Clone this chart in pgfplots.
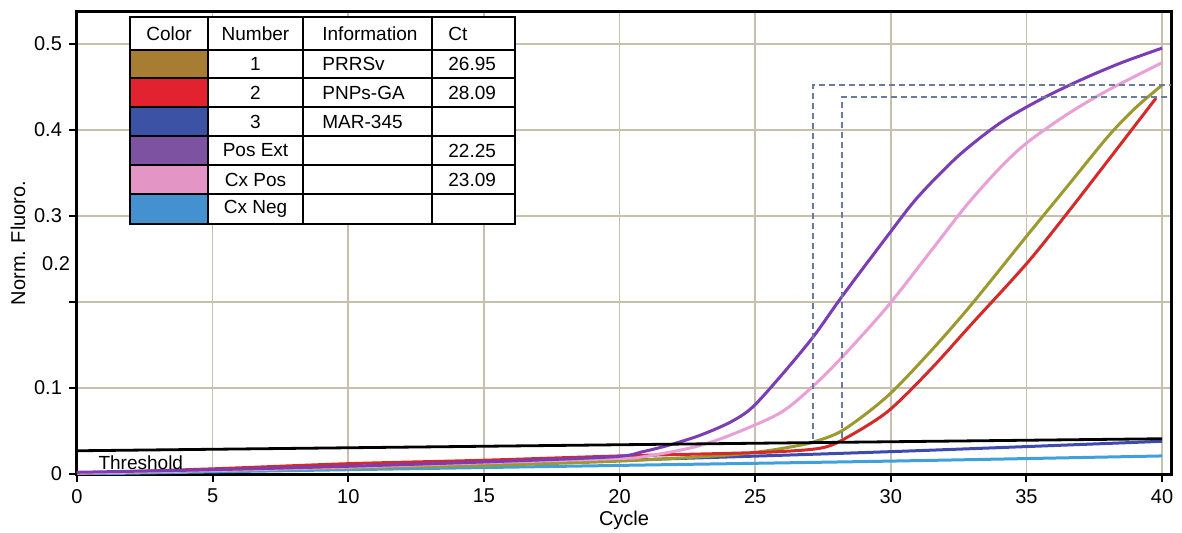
\documentclass[border=0pt]{standalone}
\usepackage{fontspec}
\setmainfont{Liberation Sans}
\usepackage{pgfplots}
\pgfplotsset{compat=1.18}
\usetikzlibrary{calc}

% curve colours
\definecolor{cOlive}{HTML}{9C9A2E}
\definecolor{cRed}{HTML}{D42A2A}
\definecolor{cPurple}{HTML}{7B3DB5}
\definecolor{cPink}{HTML}{E9A0D6}
\definecolor{cBlue}{HTML}{3D4BB0}
\definecolor{cLight}{HTML}{3FA0DC}
% legend swatches
\definecolor{sBrown}{HTML}{A67D33}
\definecolor{sRed}{HTML}{E2222E}
\definecolor{sBlue}{HTML}{3B52A5}
\definecolor{sPurple}{HTML}{7D52A0}
\definecolor{sPink}{HTML}{E395C5}
\definecolor{sLight}{HTML}{4391CE}
\definecolor{gridtan}{HTML}{C8C0AC}
\definecolor{dashc}{HTML}{6C7C9C}

\begin{document}
\begin{tikzpicture}
\begin{axis}[
  scale only axis,
  width=547pt, height=231pt,
  xmin=0, xmax=40.33, ymin=0, ymax=0.537,
  axis line style={line width=1.5pt},
  tick pos=left,
  tick align=outside,
  major tick length=4pt,
  tick style={black, line width=1pt},
  xtick={0,5,10,15,20,25,30,35,40},
  ytick={0,0.1,0.2,0.3,0.4,0.5},
  yticklabels={0,0.1,,0.3,0.4,0.5},
  extra y ticks={0.244},
  extra y tick labels={0.2},
  extra y tick style={major tick length=0pt, grid=none},
  grid=major,
  major grid style={gridtan, line width=0.8pt},
  tick label style={font=\fontsize{10}{12}\selectfont},
  /pgf/number format/assume math mode=true,
  xlabel={Cycle},
  ylabel={Norm. Fluoro.},
  label style={font=\fontsize{10}{12}\selectfont},
  xlabel style={at={(axis description cs:0.5,-0.0996)}, anchor=center},
  ylabel style={at={(axis description cs:-0.054,0.5)}, anchor=center},
  every axis plot/.append style={line width=1.5pt},
]
% Cx Neg
\addplot[cLight, smooth] coordinates {(0,0.000)(10,0.005)(20,0.010)(30,0.015)(40,0.021)};
% MAR-345
\addplot[cBlue, smooth] coordinates {(0,0.001)(10,0.008)(20,0.016)(30,0.026)(40,0.038)};
% PRRSv
\addplot[cOlive, smooth] coordinates {
(0,0.001)(5,0.004)(10,0.007)(15,0.010)(20,0.015)(24,0.022)(25.44,0.027)(26.4,0.032)
(27.13,0.037)(28.24,0.051)(29.86,0.090)(31.45,0.142)(33.0,0.198)(35.02,0.277)
(36.5,0.334)(38.0,0.392)(39.0,0.425)(40,0.452)};
% PNPs-GA
\addplot[cRed, smooth] coordinates {
(0,0.001)(5,0.006)(10,0.012)(15,0.016)(20,0.021)(24,0.024)(25.9,0.026)(27.4,0.030)
(28.24,0.040)(29.86,0.072)(31.45,0.121)(33.0,0.175)(35.02,0.245)(36.5,0.303)
(38.0,0.364)(39.78,0.437)};
% Cx Pos
\addplot[cPink, smooth] coordinates {
(0,0.001)(5,0.004)(10,0.008)(15,0.013)(20,0.018)(20.87,0.020)(22.71,0.031)(24.07,0.045)
(25.92,0.071)(27.13,0.102)(28.24,0.137)(29.86,0.194)(31.45,0.258)(32.81,0.313)
(34.03,0.356)(35.02,0.385)(36.5,0.418)(38,0.446)(40,0.478)};
% Pos Ext
\addplot[cPurple, smooth] coordinates {
(0,0.002)(5,0.005)(10,0.009)(15,0.014)(19.76,0.020)(20.87,0.026)(21.87,0.034)
(22.97,0.045)(24.07,0.060)(24.88,0.077)(25.92,0.113)(27.13,0.159)(28.24,0.208)
(29.86,0.276)(31,0.322)(32.5,0.370)(34.03,0.408)(35.5,0.435)(37,0.458)(38.5,0.478)(40,0.495)};
% threshold
\addplot[black, line width=1.4pt] coordinates {(0,0.027)(40,0.041)};
% Ct markers
\addplot[dashc, line width=0.9pt, dash pattern=on 3pt off 2pt] coordinates {(27.13,0.041)(27.13,0.452)(40.33,0.452)};
\addplot[dashc, line width=0.9pt, dash pattern=on 3pt off 2pt] coordinates {(28.2,0.042)(28.2,0.438)(40.33,0.438)};
\node[anchor=west, font=\fontsize{9.5}{11}\selectfont, inner sep=0pt] at (axis cs:0.78,0.013) {Threshold};
\end{axis}

% results table
\begin{scope}[shift={(current axis.north west)}, x=1pt, y=1pt,
  every node/.style={font=\fontsize{9.5}{11}\selectfont, inner sep=0pt}]
\fill[white] (26.5,-2.5) rectangle (219,-106);
\fill[sBrown]  (26.5,-19)   rectangle (65.5,-33);
\fill[sRed]    (26.5,-33)   rectangle (65.5,-47.5);
\fill[sBlue]   (26.5,-47.5) rectangle (65.5,-62);
\fill[sPurple] (26.5,-62)   rectangle (65.5,-76.5);
\fill[sPink]   (26.5,-76.5) rectangle (65.5,-91);
\fill[sLight]  (26.5,-91)   rectangle (65.5,-106);
\draw[line width=1pt] (26.5,-2.5) rectangle (219,-106);
\foreach \xx in {65.5,113,177.5} \draw[line width=1pt] (\xx,-2.5) -- (\xx,-106);
\foreach \yy in {-19,-33,-47.5,-62,-76.5,-91} \draw[line width=1pt] (26.5,\yy) -- (219,\yy);
\node at (46,-10.75) {Color};
\node at (89.25,-10.75) {Number};
\node[anchor=west] at (122.5,-10.75) {Information};
\node[anchor=west] at (185.5,-10.75) {Ct};
\node at (89.25,-26) {1};
\node at (89.25,-40.25) {2};
\node at (89.25,-54.75) {3};
\node at (89.25,-69.25) {Pos Ext};
\node at (89.25,-83.75) {Cx Pos};
\node at (89.25,-98.5) {Cx Neg};
\node[anchor=west] at (122.5,-26) {PRRSv};
\node[anchor=west] at (122.5,-40.25) {PNPs-GA};
\node[anchor=west] at (122.5,-54.75) {MAR-345};
\node[anchor=west] at (185.5,-26) {26.95};
\node[anchor=west] at (185.5,-40.25) {28.09};
\node[anchor=west] at (185.5,-69.25) {22.25};
\node[anchor=west] at (185.5,-83.75) {23.09};
\end{scope}

\pgfresetboundingbox
\path ($(current axis.south west)+(-38.5pt,-29pt)$) rectangle ($(current axis.north east)+(5.5pt,6pt)$);
\end{tikzpicture}
\end{document}
